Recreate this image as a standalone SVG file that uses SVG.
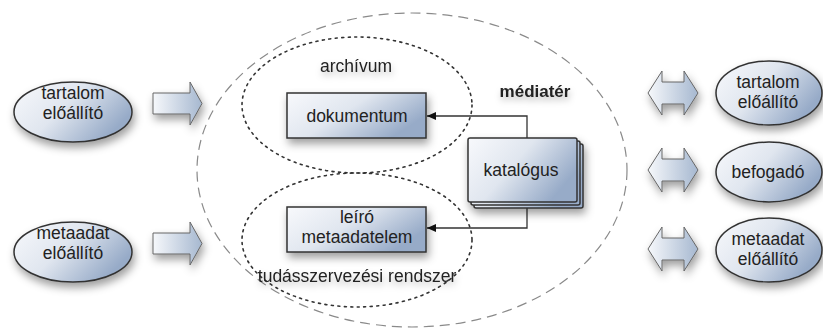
<svg xmlns="http://www.w3.org/2000/svg" width="823" height="329" viewBox="0 0 823 329">
  <defs>
    <linearGradient id="fillBlue" x1="0" y1="0" x2="1" y2="0.5">
      <stop offset="0" stop-color="#f8f9fc"/>
      <stop offset="0.5" stop-color="#e0e6ef"/>
      <stop offset="1" stop-color="#97abc8"/>
    </linearGradient>
    <linearGradient id="arrowFill" x1="0" y1="0" x2="1" y2="0">
      <stop offset="0" stop-color="#f6f8fb"/>
      <stop offset="1" stop-color="#a6b8d0"/>
    </linearGradient>
    <filter id="shadow" x="-30%" y="-30%" width="160%" height="180%">
      <feDropShadow dx="2" dy="5" stdDeviation="4" flood-color="#000" flood-opacity="0.38"/>
    </filter>
    <filter id="textShadow" x="-20%" y="-50%" width="140%" height="220%">
      <feDropShadow dx="1" dy="4" stdDeviation="3" flood-color="#000" flood-opacity="0.25"/>
    </filter>
    <marker id="arrowHead" markerWidth="9" markerHeight="8" refX="9" refY="4" orient="auto" markerUnits="userSpaceOnUse">
      <path d="M0,0 L9,4 L0,8 Z" fill="#111"/>
    </marker>
  </defs>
  <style>
    .node { fill: url(#fillBlue); stroke: #333; stroke-width: 1.5; }
    .shadowed { filter: url(#shadow); }
    .arrow { fill: url(#arrowFill); stroke: #666; stroke-width: 1; filter: url(#shadow); }
    .label { font-family: "Liberation Sans", Arial, sans-serif; font-size: 17.5px; fill: #222; text-anchor: middle; }
    .title { font-weight: bold; font-size: 17px; }
    .zone { fill: none; stroke: #333; stroke-width: 1.6; stroke-dasharray: 2 4.5; stroke-linecap: round; }
    .space { fill: none; stroke: #8a8a8a; stroke-width: 1.2; stroke-dasharray: 10 6; }
    .link { fill: none; stroke: #333; stroke-width: 1.3; marker-end: url(#arrowHead); }
  </style>

  <!-- media space boundary and inner zones -->
  <g id="mediater">
    <ellipse class="space" cx="412" cy="170" rx="215" ry="157"/>
    <text class="label title" x="535" y="97" filter="url(#textShadow)">médiatér</text>
  </g>
  <g id="archivum">
    <ellipse class="zone" cx="357" cy="105" rx="115" ry="68"/>
    <text class="label" x="356" y="72" filter="url(#textShadow)">archívum</text>
  </g>
  <g id="tudasszervezes">
    <ellipse class="zone" cx="357" cy="240" rx="115" ry="67"/>
    <text class="label" x="357" y="282" filter="url(#textShadow)">tudásszervezési rendszer</text>
  </g>

  <!-- connectors from the catalogue -->
  <g id="connectors">
    <path class="link" d="M527,138 V116 H427"/>
    <path class="link" d="M527,208 V228 H427"/>
  </g>

  <!-- producers on the left -->
  <g id="tartalom-bal">
    <ellipse class="node shadowed" cx="73" cy="112" rx="59" ry="30"/>
    <text class="label" x="73" y="99">tartalom</text>
    <text class="label" x="73" y="119">előállító</text>
  </g>
  <g id="metaadat-bal">
    <ellipse class="node shadowed" cx="73" cy="252" rx="59" ry="30"/>
    <text class="label" x="73" y="239">metaadat</text>
    <text class="label" x="73" y="259">előállító</text>
  </g>
  <g id="nyil-bal-1">
    <path class="arrow" d="M153,93 H190 V82 L202,103.5 L190,125 V114 H153 Z"/>
  </g>
  <g id="nyil-bal-2">
    <path class="arrow" d="M153,233 H190 V222 L202,243.5 L190,265 V254 H153 Z"/>
  </g>

  <!-- inner elements -->
  <g id="dokumentum">
    <rect class="node shadowed" x="287" y="93" width="139" height="45"/>
    <text class="label" x="357" y="122">dokumentum</text>
  </g>
  <g id="leiro">
    <rect class="node shadowed" x="287" y="207" width="139" height="45"/>
    <text class="label" x="357" y="223">leíró</text>
    <text class="label" x="357" y="243">metaadatelem</text>
  </g>
  <g id="katalogus">
    <g class="shadowed">
      <rect class="node" x="474" y="144" width="109" height="64" rx="2"/>
      <rect class="node" x="471" y="141" width="109" height="64" rx="2"/>
      <rect class="node" x="468" y="138" width="109" height="64" rx="2"/>
    </g>
    <text class="label" x="521" y="176">katalógus</text>
  </g>

  <!-- two-way exchanges on the right -->
  <g id="nyil-jobb-1">
    <path class="arrow" d="M648,93 L662,71 V82 H684 V71 L698,93 L684,115 V104 H662 V115 Z"/>
  </g>
  <g id="nyil-jobb-2">
    <path class="arrow" d="M648,170 L662,148 V159 H684 V148 L698,170 L684,192 V181 H662 V192 Z"/>
  </g>
  <g id="nyil-jobb-3">
    <path class="arrow" d="M648,249 L662,227 V238 H684 V227 L698,249 L684,271 V260 H662 V271 Z"/>
  </g>
  <g id="tartalom-jobb">
    <ellipse class="node shadowed" cx="769" cy="93" rx="53" ry="32"/>
    <text class="label" x="768" y="88">tartalom</text>
    <text class="label" x="768" y="108">előállító</text>
  </g>
  <g id="befogado">
    <ellipse class="node shadowed" cx="769" cy="172" rx="53" ry="30"/>
    <text class="label" x="768" y="178">befogadó</text>
  </g>
  <g id="metaadat-jobb">
    <ellipse class="node shadowed" cx="769" cy="250" rx="53" ry="32"/>
    <text class="label" x="768" y="245">metaadat</text>
    <text class="label" x="768" y="265">előállító</text>
  </g>
</svg>
